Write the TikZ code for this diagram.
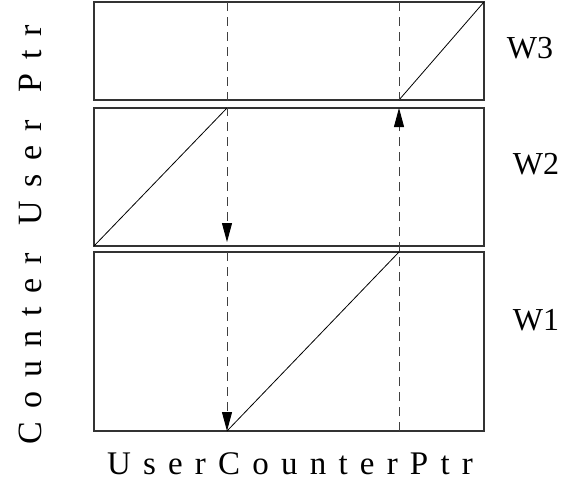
\documentclass[tikz,border=0pt]{standalone}
\usepackage{fontspec}
\setmainfont{Liberation Serif}
\usetikzlibrary{arrows.meta}
\begin{document}
\begin{tikzpicture}[x=1pt,y=-1pt,
  box/.style={draw=black!80, line width=1.3pt, fill=none},
  diag/.style={line width=0.8pt},
  dline/.style={line width=0.9pt, black!75, dash pattern=on 9pt off 6pt},
  arr/.style={-{Triangle[length=19pt,width=10pt,color=black]}},
  lbl/.style={font=\fontsize{32}{34}\selectfont, inner sep=0pt},
  spaced/.style={font=\fontsize{33}{36}\selectfont\addfontfeature{LetterSpace=37}, inner sep=0pt},
  vspaced/.style={font=\fontsize{34}{36}\selectfont\addfontfeature{LetterSpace=40}, inner sep=0pt}
]
\useasboundingbox (0,0) rectangle (575,482);
% box corners
\coordinate (t1) at (94,2);   \coordinate (t2) at (484,100);
\coordinate (m1) at (94,108); \coordinate (m2) at (484,246);
\coordinate (b1) at (94,252); \coordinate (b2) at (484,431);
\draw[box] (t1) rectangle (t2);
\draw[box] (m1) rectangle (m2);
\draw[box] (b1) rectangle (b2);
% diagonals
\coordinate (d3a) at (399,100); \coordinate (d3b) at (484,2);
\coordinate (d2a) at (94,246);  \coordinate (d2b) at (227,108);
\coordinate (d1a) at (227,431); \coordinate (d1b) at (399,252);
\draw[diag] (d3a) -- (d3b);
\draw[diag] (d2a) -- (d2b);
\draw[diag] (d1a) -- (d1b);
% dashed lines
\coordinate (lTop) at (227,2);  \coordinate (lMid) at (227,242);
\coordinate (lB) at (227,252);  \coordinate (lEnd) at (227,431);
\coordinate (rTop) at (399,2);  \coordinate (rMid) at (399,100);
\coordinate (rStart) at (399,431); \coordinate (rTip) at (399,108);
\draw[dline, arr] (lTop) -- (lMid);
\draw[dline, arr] (lB) -- (lEnd);
\draw[dline] (rTop) -- (rMid);
\draw[dline, arr] (rStart) -- (rTip);
% labels
\node[lbl] (w3) at (530,48) {W3};
\node[lbl] (w2) at (536,164) {W2};
\node[lbl] (w1) at (536,320) {W1};
\node[vspaced, rotate=90] (ylab) at (30,235) {Counter\hspace*{28pt}User\hspace*{28pt}Ptr};
\node[spaced] (xlab) at (290,464) {UserCounterPtr};
\end{tikzpicture}
\end{document}
